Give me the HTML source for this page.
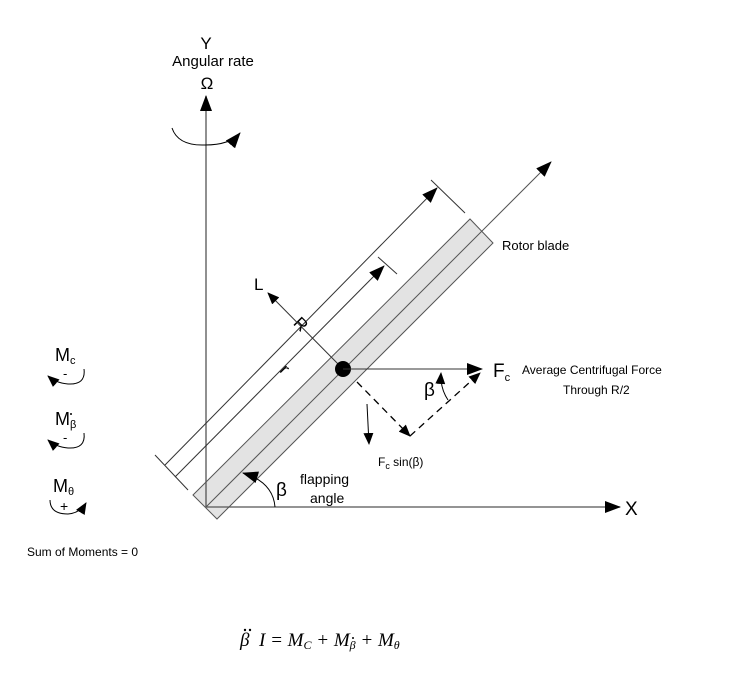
<!DOCTYPE html>
<html><head><meta charset="utf-8"><style>
html,body{margin:0;padding:0;background:#fff;width:756px;height:688px;overflow:hidden}
svg{display:block}
text{font-family:"Liberation Sans",sans-serif;fill:#000}
.s{font-family:"Liberation Serif",serif;font-style:italic}
</style></head><body>
<svg width="756" height="688" viewBox="0 0 756 688" xmlns="http://www.w3.org/2000/svg">
<defs>
<marker id="a" markerWidth="12" markerHeight="10" refX="11" refY="5" orient="auto" markerUnits="userSpaceOnUse"><path d="M0,0 L12,5 L0,10 Z" fill="#000"/></marker>
<marker id="b" markerWidth="16" markerHeight="12" refX="15" refY="6" orient="auto" markerUnits="userSpaceOnUse"><path d="M0,0 L16,6 L0,12 Z" fill="#000"/></marker>
</defs>
<polygon points="193,495 470,219 493,243 217,519" fill="#e3e3e3" stroke="#555" stroke-width="1"/>
<line x1="206" y1="507" x2="206" y2="96" stroke="#555" stroke-width="1.3" marker-end="url(#b)"/>
<line x1="206" y1="507" x2="620" y2="507" stroke="#555" stroke-width="1.3" marker-end="url(#b)"/>
<text x="625" y="515" font-size="19">X</text>
<line x1="206" y1="507" x2="551" y2="162" stroke="#555" stroke-width="1" marker-end="url(#b)"/>
<line x1="155" y1="455" x2="188" y2="490" stroke="#333"/>
<line x1="431" y1="180" x2="465" y2="213" stroke="#333"/>
<line x1="165" y1="465" x2="437" y2="188" stroke="#333" marker-end="url(#b)"/>
<line x1="175" y1="477" x2="384" y2="266" stroke="#333" marker-end="url(#b)"/>
<line x1="378" y1="257" x2="397" y2="274" stroke="#333"/>
<text x="300" y="325" font-size="17" text-anchor="middle" dominant-baseline="middle" transform="rotate(45 300 325)">R</text>
<text x="284" y="370" font-size="17" text-anchor="middle" dominant-baseline="middle" transform="rotate(45 284 370)">r</text>
<line x1="343" y1="369" x2="268" y2="293" stroke="#333" marker-end="url(#a)"/>
<text x="254" y="290" font-size="17">L</text>
<circle cx="343" cy="369" r="8" fill="#000"/>
<line x1="343" y1="369" x2="482" y2="369" stroke="#333" marker-end="url(#b)"/>
<text x="493" y="377" font-size="19">F<tspan font-size="11" dy="4">c</tspan></text>
<text x="522" y="374" font-size="12">Average Centrifugal Force</text>
<text x="563" y="394" font-size="12">Through R/2</text>
<line x1="357" y1="382" x2="410" y2="436" stroke="#000" stroke-width="1.3" stroke-dasharray="7,5" marker-end="url(#a)"/>
<line x1="410" y1="436" x2="480" y2="373" stroke="#000" stroke-width="1.3" stroke-dasharray="7,5" marker-end="url(#a)"/>
<line x1="367" y1="404" x2="369" y2="444" stroke="#000" marker-end="url(#a)"/>
<text x="378" y="466" font-size="12">F<tspan font-size="9" dy="3">c</tspan><tspan dy="-3"> sin(β)</tspan></text>
<path d="M448,400 Q440,388 441,373" fill="none" stroke="#000" marker-end="url(#a)"/>
<text x="424" y="396" font-size="19">β</text>
<path d="M275,507 Q273,482 243,473" fill="none" stroke="#000" marker-end="url(#b)"/>
<text x="276" y="496" font-size="19">β</text>
<text x="300" y="484" font-size="14">flapping</text>
<text x="310" y="503" font-size="14">angle</text>
<text x="502" y="250" font-size="13">Rotor blade</text>
<text x="206" y="49" font-size="17" text-anchor="middle">Y</text>
<text x="213" y="66" font-size="15" text-anchor="middle">Angular rate</text>
<text x="207" y="89" font-size="17" text-anchor="middle">Ω</text>
<path d="M172,128 Q178,146 205,145 Q230,145 240,133" fill="none" stroke="#000" marker-end="url(#b)"/>
<text x="55" y="361" font-size="18">M<tspan font-size="11" dy="3">c</tspan></text>
<text x="63" y="378" font-size="13">-</text>
<path d="M84,369 Q86,385 68,384 Q56,383 48,376" fill="none" stroke="#000" marker-end="url(#a)"/>
<text x="55" y="425" font-size="18">M<tspan font-size="11" dy="3">β</tspan></text>
<circle cx="71" cy="414" r="1" fill="#000"/>
<text x="63" y="442" font-size="13">-</text>
<path d="M84,433 Q86,449 68,448 Q56,447 48,440" fill="none" stroke="#000" marker-end="url(#a)"/>
<text x="53" y="492" font-size="18">M<tspan font-size="11" dy="3">θ</tspan></text>
<text x="60" y="511" font-size="14">+</text>
<path d="M50,500 Q50,514 68,514 Q80,513 86,503" fill="none" stroke="#000" marker-end="url(#a)"/>
<text x="27" y="556" font-size="12">Sum of Moments = 0</text>
<text x="240" y="646" font-size="19" class="s">β</text>
<circle cx="245" cy="630" r="1.2" fill="#000"/><circle cx="250" cy="630" r="1.2" fill="#000"/>
<text x="259" y="646" font-size="19" class="s">I = M<tspan font-size="12" dy="3">C</tspan><tspan dy="-3"> + M</tspan><tspan font-size="12" dy="3">β</tspan><tspan dy="-3">  + M</tspan><tspan font-size="12" dy="3">θ</tspan></text>
<circle cx="353" cy="638" r="1" fill="#000"/>
</svg>
</body></html>
